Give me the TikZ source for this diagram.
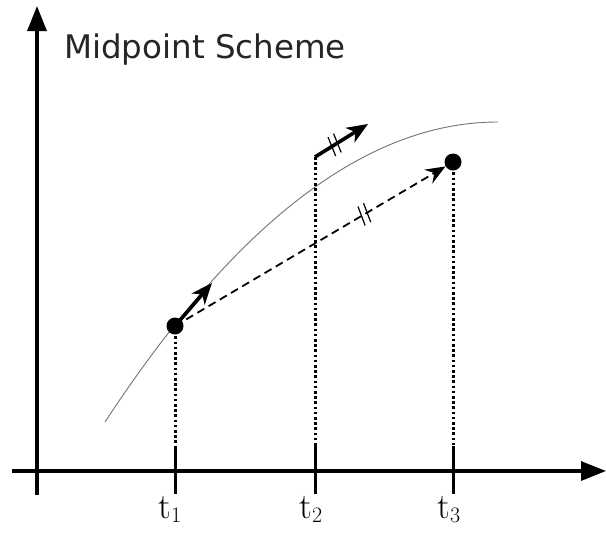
\documentclass[tikz,border=0pt]{standalone}
\usepackage{fontspec}
\newfontfamily\titlefont{DejaVu Sans}
\usetikzlibrary{arrows.meta,decorations.markings}
\newcommand{\tlab}[1]{\fontsize{36}{40}\selectfont t\kern-0.5pt\raisebox{-0.3ex}{\fontsize{22}{24}\selectfont #1}}
\begin{document}
\begin{tikzpicture}[x=1pt,y=-1pt,
  axis/.style={line width=3.2pt,-{Triangle[length=25pt,width=19pt]}},
  tickmark/.style={line width=3pt},
  dotline/.style={line width=3pt,dash pattern=on 2.6pt off 2.6pt},
  ptdot/.style={circle,fill=black,minimum size=17pt,inner sep=0pt},
  slope/.style={line width=3.6pt,-{Stealth[length=21pt,width=17pt,inset=6pt]}},
  curve/.style={draw=black!55,line width=0.9pt},
  tlabel/.style={anchor=base,inner sep=0pt},
  twomarks/.style={postaction={decorate},decoration={markings,
     mark=at position #1 with {\draw[-,line width=1.2pt,solid] (-5pt,-10pt)--(-1.5pt,10pt) (1.5pt,-10pt)--(5pt,10pt);}}}
]
\useasboundingbox (0,0) rectangle (606,536);
% axes
\coordinate (yb) at (37,495);
\coordinate (yt) at (37,6);
\coordinate (xl) at (12,471);
\coordinate (xr) at (606,471);
\draw[axis] (yb) -- (yt);
\draw[axis] (xl) -- (xr);
% title
\node[anchor=base west,inner sep=0pt,text=black!85,font=\titlefont\fontsize{32.5}{38}\selectfont] (title) at (64,58) {Midpoint Scheme};
% curve
\coordinate (c0) at (105,422);
\coordinate (c3) at (498,122);
\draw[curve] (c0) .. controls (236,222) and (367,122) .. (c3);
% ticks
\foreach \n/\x in {1/175,2/315,3/453}{
  \coordinate (tt\n) at (\x,446);
  \coordinate (tb\n) at (\x,494);
  \draw[tickmark] (tt\n) -- (tb\n);
}
% labels
\node[tlabel] (l1) at (170,518) {\tlab{1}};
\node[tlabel] (l2) at (311,518) {\tlab{2}};
\node[tlabel] (l3) at (449,518) {\tlab{3}};
% points
\node[ptdot] (p1) at (175,326) {};
\node[ptdot] (p3) at (453,162) {};
\coordinate (s2) at (315,157);
\coordinate (e2) at (368,124);
\coordinate (a1) at (212,283);
% dotted verticals
\draw[dotline] (p1.center) -- (tt1);
\draw[dotline] (s2) -- (tt2);
\draw[dotline] (p3.center) -- (tt3);
% slope arrows
\draw[slope] (p1.center) -- (a1);
\draw[slope,twomarks=0.37] (s2) -- (e2);
\draw[line width=1.8pt,dash pattern=on 8pt off 5pt,-{Stealth[length=20pt,width=16pt,inset=7pt]},twomarks=0.7] (p1.center) -- (p3);
\end{tikzpicture}
\end{document}
